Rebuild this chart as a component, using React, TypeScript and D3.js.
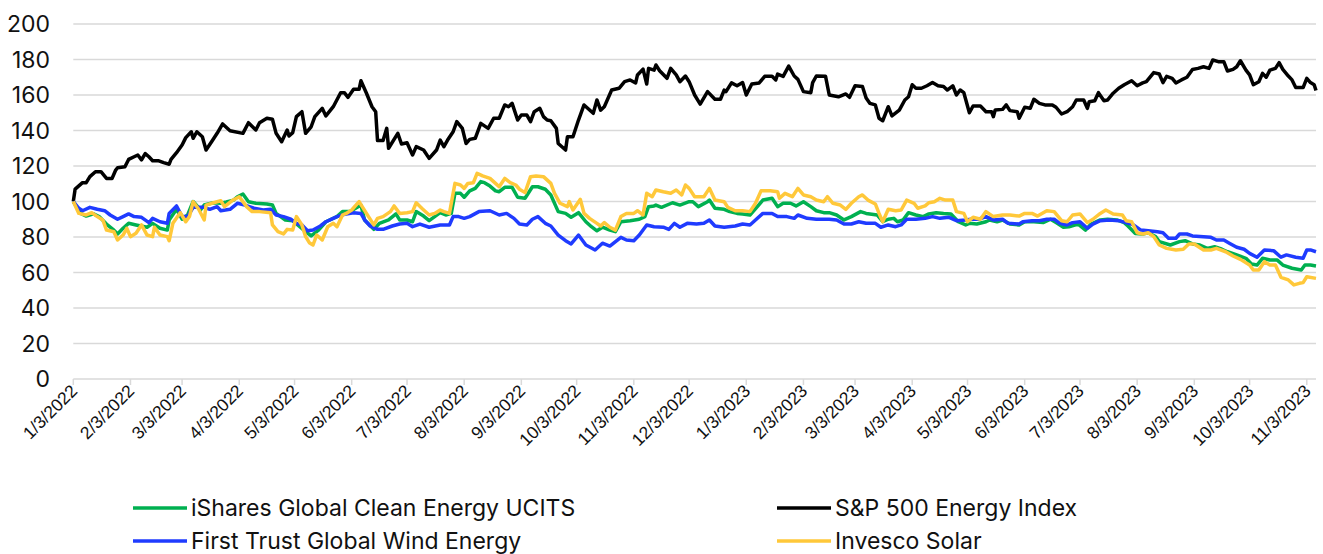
import { useEffect, useRef } from "react";
import * as d3 from "d3";

// [days since 1/3/2022, index value]
const iShares: [number, number][] = [
  [0, 100], [4, 93.3], [7, 91.8], [11, 93], [14, 91.5], [18, 87.3], [22, 83.9], [24, 81.7], [27, 84.9], [30, 87.7],
  [34, 86.8], [40, 85.5], [43, 87.7], [47, 84.9], [51, 83.9], [52, 89.6], [56, 95.6], [59, 90], [62, 92.4], [65, 100],
  [69, 95.2], [71, 98], [76, 99.3], [80, 99], [83, 99.7], [87, 100.8], [89, 102.7], [92, 104.2], [95, 99.9], [99, 99],
  [105, 98.6], [108, 98], [110, 93.3], [115, 89.6], [119, 89.2], [126, 83], [129, 80.6], [133, 83.9], [137, 88.6], [143, 91.5],
  [146, 94.3], [150, 94.3], [154, 96.7], [156, 98], [158, 89.6], [163, 84.3], [166, 87.7], [171, 89.6], [175, 93], [177, 89.6],
  [181, 89.6], [184, 88.6], [186, 94.3], [190, 91.8], [193, 89.2], [196, 91.5], [199, 93.7], [202, 92.4], [205, 93.3], [207, 104.6],
  [210, 104.6], [212, 102.4], [215, 106], [218, 107.4], [221, 111.2], [223, 110.6], [226, 108.7], [229, 106], [231, 105.5], [234, 108],
  [238, 108], [241, 102.4], [245, 101.8], [249, 108.3], [252, 108.3], [256, 106.9], [259, 103.7], [263, 94.3], [267, 93.3], [270, 91.1],
  [274, 93.7], [278, 88.6], [281, 85.8], [284, 83.5], [287, 85.5], [291, 83.9], [294, 83], [297, 88.6], [302, 89.2], [307, 90],
  [310, 91.5], [312, 97.1], [315, 97.5], [316, 98], [319, 96.7], [325, 99.3], [329, 98], [334, 99.9], [336, 99.9], [339, 97.1],
  [344, 99.9], [345, 100.8], [348, 96.2], [353, 95.6], [356, 94.3], [360, 93.3], [363, 93], [367, 92.4], [371, 97.1], [374, 100.8],
  [379, 101.8], [382, 97.1], [385, 99], [389, 99], [392, 97.5], [396, 99.9], [400, 97.1], [403, 94.8], [407, 93.7], [410, 93.7],
  [414, 92.4], [418, 89.6], [422, 91.5], [427, 94.3], [430, 93.3], [436, 92.4], [439, 88.6], [442, 90], [445, 90.5], [447, 88.6],
  [450, 89.6], [453, 93.7], [457, 92.4], [461, 91.5], [464, 93], [468, 93.7], [472, 93.3], [476, 93], [480, 88.6], [484, 86.8],
  [486, 87.7], [490, 87.3], [495, 88.6], [497, 89.6], [501, 88.6], [504, 89.6], [508, 87.3], [513, 86.8], [516, 88.6], [521, 88.6],
  [526, 88.1], [530, 90], [533, 88.1], [537, 85.5], [540, 85.8], [545, 87.3], [549, 83.9], [552, 87.3], [557, 89.6], [561, 90],
  [566, 89.6], [570, 88.1], [572, 86.2], [576, 82], [580, 81.7], [583, 82.4], [587, 80.2], [589, 77.4], [595, 75.5], [600, 77.4],
  [603, 77.9], [607, 76.1], [611, 75.5], [615, 73.6], [619, 74.5], [623, 73.1], [626, 71.7], [631, 69.9], [636, 68], [639, 64.8],
  [642, 64.2], [645, 68], [649, 67], [653, 67], [656, 64.2], [661, 62.4], [666, 61.4], [668, 64.2], [671, 64.2], [674, 63.7],
];

const spEnergy: [number, number][] = [
  [0, 100], [1, 107], [5, 110.6], [7, 110.6], [9, 114], [12, 116.8], [15, 116.8], [18, 113], [21, 113], [23, 117.7],
  [24, 119], [28, 119.6], [30, 123.7], [33, 125.2], [35, 126.2], [37, 123.4], [39, 127], [41, 125.2], [43, 123], [46, 123],
  [49, 121.9], [52, 121], [53, 123.7], [56, 127.5], [59, 131.8], [61, 136], [64, 139.3], [65, 135.6], [67, 139.3], [70, 136.5],
  [72, 129], [75, 133.7], [78, 138.4], [81, 143.7], [85, 139.9], [92, 138.4], [95, 144.4], [99, 140.3], [101, 144.4], [105, 146.9],
  [108, 146.3], [110, 138.4], [113, 133.7], [116, 140.3], [117, 136.9], [119, 138.8], [121, 147.8], [124, 150.6], [126, 138.4], [129, 142.1],
  [131, 147.8], [135, 152.5], [137, 148.2], [141, 153.4], [145, 161.3], [147, 161.3], [149, 158.7], [152, 163.2], [155, 163.2], [156, 168],
  [159, 161], [162, 153.4], [164, 150.6], [165, 134.3], [168, 134.3], [170, 141.2], [171, 130], [176, 138.4], [178, 132.4], [181, 133.1],
  [184, 126.2], [186, 130.9], [190, 129], [193, 124.3], [197, 129], [199, 134.6], [201, 130.9], [203, 134.6], [206, 139.3], [208, 145],
  [211, 141.2], [213, 132.7], [215, 135], [218, 135.6], [221, 144], [225, 141.2], [228, 146.9], [231, 146.9], [234, 154.4], [236, 153.4],
  [238, 155.3], [241, 145.9], [243, 148.7], [246, 148.7], [248, 145], [250, 150.6], [253, 152.5], [255, 147.8], [257, 145.9], [259, 145.5],
  [262, 141.2], [263, 132.7], [267, 129], [268, 136.5], [271, 136.5], [274, 145.9], [277, 154.4], [282, 149.7], [284, 157.2], [286, 151.5],
  [288, 153.4], [292, 162.8], [296, 163.8], [299, 167.5], [302, 168.5], [305, 166.8], [306, 171.3], [309, 174.6], [311, 166.2], [312, 175],
  [315, 174], [316, 176.9], [318, 173.7], [322, 169.4], [324, 175], [327, 171.3], [329, 167.5], [332, 170.7], [334, 167.5], [337, 160],
  [340, 154.9], [344, 161.9], [348, 157.6], [351, 157.6], [353, 162.8], [354, 161.9], [357, 166.8], [360, 165.2], [363, 167], [365, 160],
  [368, 166.2], [372, 166.8], [375, 170.5], [379, 170.5], [381, 168.5], [382, 171.8], [385, 170.5], [388, 176.3], [391, 170.7], [393, 168.8],
  [396, 161.9], [400, 161.3], [401, 167], [403, 170.7], [408, 170.5], [410, 160], [415, 159], [419, 160.6], [421, 158.7], [424, 165.2],
  [428, 164.8], [430, 158.3], [432, 155.3], [435, 154.4], [437, 146.9], [439, 145.5], [442, 153.4], [444, 148.2], [448, 151.5], [451, 157.2],
  [453, 159], [455, 165.8], [457, 163.8], [460, 163.8], [463, 165.2], [466, 167], [469, 165.2], [472, 164.8], [474, 162.8], [477, 165.2],
  [479, 160], [481, 162.8], [483, 161.3], [486, 150], [488, 153.8], [492, 153.8], [495, 150.6], [498, 150.6], [499, 147.8], [500, 151.5],
  [504, 151.9], [506, 154.4], [508, 151.2], [512, 150.6], [513, 146.9], [516, 153.1], [519, 152.5], [521, 157.6], [524, 155.3], [527, 154.4],
  [531, 154.4], [533, 153.1], [536, 149.3], [539, 150.6], [542, 153.4], [544, 157.2], [548, 157.2], [550, 152.5], [551, 156.2], [554, 156.8],
  [556, 161.3], [559, 156.8], [561, 157.2], [564, 161], [567, 163.8], [570, 165.8], [574, 168], [577, 165.2], [580, 166.8], [582, 167.5],
  [586, 172.6], [589, 171.8], [591, 167], [593, 170.5], [596, 169.4], [598, 166.8], [601, 168.5], [604, 170], [607, 174.4], [610, 175],
  [613, 175.9], [616, 175], [618, 179.7], [621, 178.8], [624, 178.8], [626, 173.5], [629, 174.4], [631, 175.9], [633, 179.3], [636, 174],
  [638, 171.3], [640, 165.8], [643, 167.5], [645, 172.2], [647, 170], [649, 174], [652, 175], [654, 178.2], [656, 174.4], [659, 170.7],
  [661, 168.5], [663, 164.2], [667, 164.2], [669, 169.4], [671, 167], [673, 165.8], [674, 162.5],
];

const firstTrustWind: [number, number][] = [
  [0, 100], [3, 96.2], [5, 94.8], [9, 96.7], [13, 95.6], [17, 94.8], [20, 92.4], [24, 90], [27, 91.5], [30, 93],
  [33, 91.5], [37, 91.1], [41, 88.1], [43, 90.5], [47, 88.6], [51, 87.7], [52, 93.3], [56, 97.5], [59, 91.5], [62, 91.5],
  [65, 96.7], [71, 96.7], [74, 95.6], [78, 97.1], [80, 94.8], [85, 95.6], [89, 99], [93, 98], [98, 96.2], [103, 95.2],
  [107, 95.6], [110, 92.4], [114, 91.5], [118, 90], [121, 87.7], [124, 86.8], [127, 83.5], [130, 83.9], [134, 86.2], [137, 88.6],
  [143, 91.5], [148, 93], [152, 93.7], [156, 93.3], [158, 89.6], [161, 86.2], [165, 84.3], [168, 84.3], [173, 86.2], [177, 87.3],
  [181, 87.7], [184, 85.8], [188, 87.3], [193, 85.5], [199, 86.8], [204, 86.8], [206, 91.5], [209, 91.5], [212, 90.5], [215, 91.5],
  [220, 94.3], [226, 94.8], [231, 92.4], [235, 93.3], [239, 90.5], [242, 87.3], [246, 86.8], [249, 90], [252, 91.5], [256, 87.7],
  [259, 86.2], [263, 81.1], [267, 77.9], [270, 76.1], [274, 81.1], [278, 75.5], [283, 72.7], [287, 76.5], [291, 74.9], [297, 79.8],
  [300, 78.3], [304, 77.9], [307, 81.1], [311, 86.8], [315, 85.8], [320, 85.5], [323, 84.3], [326, 87.7], [329, 85.5], [333, 87.7],
  [338, 87.3], [342, 87.7], [345, 89.6], [348, 86.2], [353, 85.5], [359, 86.2], [363, 87.3], [367, 86.8], [370, 89.6], [374, 93.3],
  [379, 93.3], [382, 91.5], [387, 91.5], [391, 90.5], [393, 92.4], [398, 90.5], [403, 90], [410, 90], [414, 89.6], [418, 87.3],
  [422, 87.3], [426, 88.6], [430, 87.7], [435, 87.7], [438, 85.5], [442, 86.8], [446, 85.8], [449, 86.8], [452, 90], [457, 90],
  [462, 90.5], [466, 91.5], [470, 90.5], [475, 91.1], [479, 89.2], [484, 89.6], [487, 90], [491, 90], [495, 91.5], [499, 89.6],
  [504, 90], [507, 87.7], [513, 87.3], [515, 88.6], [520, 89.2], [524, 89.2], [528, 90], [532, 90], [535, 87.7], [539, 86.8],
  [542, 88.1], [546, 88.6], [550, 84.9], [553, 87.3], [557, 89.2], [562, 89.6], [567, 89.2], [571, 88.1], [575, 86.8], [579, 83.9],
  [583, 83.5], [588, 83], [591, 82.4], [594, 79.3], [598, 79.3], [600, 81.7], [604, 81.7], [607, 80.6], [613, 80.2], [617, 79.8],
  [620, 78.3], [624, 78.3], [627, 76.5], [631, 74.2], [635, 73.1], [638, 70.8], [642, 68.6], [646, 72.7], [651, 72.3], [655, 68.6],
  [658, 69.9], [663, 68.6], [667, 68], [669, 72.7], [671, 72.7], [674, 71.7],
];

const invescoSolar: [number, number][] = [
  [0, 100], [3, 93.3], [7, 92.4], [10, 93.7], [13, 91.5], [16, 89.6], [18, 83.9], [22, 83], [24, 78.3], [27, 81.1],
  [29, 84.9], [31, 80.2], [34, 82.1], [37, 86.8], [40, 81.1], [43, 80.2], [44, 85.5], [47, 81.1], [51, 80.2], [52, 77.9],
  [54, 87.7], [58, 93.7], [61, 88.6], [63, 91.5], [65, 99.9], [68, 95.6], [71, 89.6], [72, 98], [76, 99.3], [80, 100.4],
  [82, 97.1], [86, 100.4], [90, 102.7], [94, 97.1], [97, 94.3], [101, 94.3], [107, 93.7], [108, 86.8], [111, 83], [114, 81.7],
  [116, 84.3], [119, 83.9], [121, 91.5], [124, 86.8], [126, 80.2], [128, 76.8], [130, 75.5], [132, 81.1], [135, 78.3], [138, 85.8],
  [141, 87.7], [143, 85.8], [146, 92.4], [148, 93.3], [151, 95.2], [155, 99.9], [159, 93.3], [163, 86.8], [165, 90.5], [168, 91.5],
  [172, 94.3], [174, 97.5], [177, 93.3], [181, 93.7], [184, 94.3], [186, 99.3], [189, 96.2], [193, 92.4], [196, 93.3], [199, 95.2],
  [201, 94.3], [204, 93.3], [207, 110.2], [210, 109.3], [212, 107.4], [214, 110.2], [217, 110.6], [219, 115.9], [222, 114.4], [226, 113],
  [229, 110.2], [231, 108.3], [234, 113], [237, 110.6], [240, 109.3], [242, 106.9], [245, 105], [248, 114], [251, 114.4], [255, 114],
  [259, 110.2], [261, 104.6], [264, 99], [268, 97.1], [269, 99.9], [271, 95.2], [275, 101.2], [277, 93.3], [280, 90.5], [284, 87.7],
  [286, 86.2], [288, 88.1], [291, 85.5], [294, 83.9], [297, 91.5], [300, 93.3], [304, 93.3], [306, 94.8], [309, 92.4], [311, 104.6],
  [314, 102.7], [316, 106.5], [320, 105.5], [324, 104.6], [327, 106.5], [330, 103.7], [332, 109.3], [334, 107.4], [337, 102.7], [342, 102.7],
  [345, 107.4], [348, 100.8], [353, 99.9], [355, 96.7], [359, 94.8], [363, 94.8], [367, 94.3], [370, 99], [373, 106], [378, 106],
  [382, 105.5], [383, 101.8], [386, 104.6], [390, 102.7], [393, 107.4], [396, 103.7], [400, 102.7], [403, 100.8], [407, 99.9], [409, 102.7],
  [412, 99], [416, 98], [419, 95.6], [422, 99], [426, 102.7], [428, 103.7], [431, 100.8], [435, 98.6], [437, 93.3], [439, 88.6],
  [442, 95.6], [446, 94.8], [449, 95.2], [452, 100.8], [456, 99], [458, 96.2], [462, 97.5], [464, 99.3], [467, 99.9], [470, 101.8],
  [473, 100.8], [477, 100.8], [479, 94.3], [483, 93.3], [485, 88.6], [488, 91.1], [492, 90], [495, 94.3], [499, 91.5], [504, 92.4],
  [508, 92.4], [513, 91.8], [516, 93.3], [520, 93.3], [523, 91.8], [528, 94.8], [532, 94.3], [536, 89.2], [539, 88.6], [542, 92.4],
  [546, 93], [550, 88.1], [553, 90], [557, 93.3], [560, 95.2], [564, 93], [569, 92.4], [571, 89.2], [574, 88.6], [577, 82.4],
  [580, 81.7], [583, 82.4], [586, 80.2], [589, 75.5], [593, 73.6], [598, 72.7], [602, 73.1], [605, 76.1], [608, 76.1], [613, 72.7],
  [617, 72.7], [620, 73.6], [625, 71.7], [629, 69.3], [633, 67.4], [638, 64.2], [640, 61.4], [643, 61.4], [646, 66.1], [649, 64.2],
  [652, 64.2], [655, 57.3], [659, 55.8], [662, 53], [665, 53.9], [667, 54.3], [669, 57.6], [674, 56.7],
];

const seriesNames = [
  "iShares Global Clean Energy UCITS",
  "S&P 500 Energy Index",
  "First Trust Global Wind Energy",
  "Invesco Solar",
];
const seriesColors = ["#00b050", "#000000", "#1f3bff", "#ffc83a"];
const yTicks = [0, 20, 40, 60, 80, 100, 120, 140, 160, 180, 200];
const startDate = new Date(2022, 0, 3);
const lastDay = 674;

const W = 1323;
const H = 554;

export default function App() {
  const ref = useRef<SVGSVGElement | null>(null);

  useEffect(() => {
    if (!ref.current) return;
    const svg = d3.select(ref.current);
    svg.selectAll("*").remove();

    const x = d3
      .scaleTime()
      .domain([startDate, d3.timeDay.offset(startDate, lastDay)])
      .range([73.3, 1316]);
    const y = d3.scaleLinear().domain([0, 200]).range([379, 24]);
    const dayToDate = (d: number) => d3.timeDay.offset(startDate, d);

    // gridlines
    svg
      .append("g")
      .selectAll("line")
      .data(yTicks)
      .join("line")
      .attr("x1", 73.3)
      .attr("x2", 1316)
      .attr("y1", (d) => y(d))
      .attr("y2", (d) => y(d))
      .attr("stroke", "#d9d9d9")
      .attr("stroke-width", 1.5);

    svg
      .append("g")
      .selectAll("text")
      .data(yTicks)
      .join("text")
      .attr("x", 50)
      .attr("y", (d) => y(d))
      .attr("dy", "0.36em")
      .attr("text-anchor", "end")
      .attr("font-family", "Inter, 'Noto Sans', sans-serif")
      .attr("font-size", 23)
      .attr("fill", "#111")
      .text((d) => d);

    // monthly ticks on the 3rd
    const tickDates = d3
      .timeMonth.range(new Date(2022, 0, 1), new Date(2023, 11, 1))
      .map((d) => d3.timeDay.offset(d, 2));
    const fmt = (d: Date) =>
      `${d.getMonth() + 1}/${d.getDate()}/${d.getFullYear()}`;

    const xAxis = svg.append("g");
    xAxis
      .selectAll("line")
      .data(tickDates)
      .join("line")
      .attr("x1", (d) => x(d))
      .attr("x2", (d) => x(d))
      .attr("y1", 379)
      .attr("y2", 385)
      .attr("stroke", "#d9d9d9")
      .attr("stroke-width", 1.5);
    xAxis
      .selectAll("text")
      .data(tickDates)
      .join("text")
      .attr("transform", (d) => `translate(${x(d) + 5},${392}) rotate(-45)`)
      .attr("text-anchor", "end")
      .attr("font-family", "'Liberation Sans', Arial, sans-serif")
      .attr("font-size", 17.5)
      .attr("fill", "#111")
      .text((d) => fmt(d));

    const line = d3
      .line<[number, number]>()
      .x((d) => x(dayToDate(d[0])))
      .y((d) => y(d[1]));

    const allSeries = [iShares, spEnergy, firstTrustWind, invescoSolar];
    svg
      .append("g")
      .selectAll("path")
      .data(allSeries)
      .join("path")
      .attr("d", (d) => line(d))
      .attr("fill", "none")
      .attr("stroke", (_, i) => seriesColors[i])
      .attr("stroke-width", 3.5)
      .attr("stroke-linejoin", "round");

    // legend, two columns
    const legendPos = [
      [133, 508],
      [777, 508],
      [133, 541],
      [777, 541],
    ];
    const legend = svg
      .append("g")
      .selectAll("g")
      .data(seriesNames)
      .join("g")
      .attr("transform", (_, i) => `translate(${legendPos[i][0]},${legendPos[i][1]})`);
    legend
      .append("line")
      .attr("x1", 0)
      .attr("x2", 54)
      .attr("stroke", (_, i) => seriesColors[i])
      .attr("stroke-width", 3.5);
    legend
      .append("text")
      .attr("x", 58)
      .attr("dy", "0.36em")
      .attr("font-family", "Inter, 'Noto Sans', sans-serif")
      .attr("font-size", 23)
      .attr("fill", "#111")
      .text((d) => d);
  }, []);

  return (
    <svg
      ref={ref}
      width={W}
      height={H}
      style={{ position: "absolute", left: 0, top: 0, background: "#fff" }}
    />
  );
}
